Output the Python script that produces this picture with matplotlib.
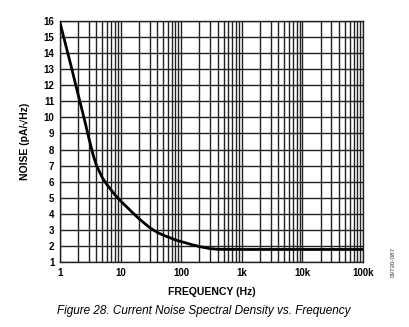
import matplotlib
matplotlib.use("Agg")
import matplotlib.pyplot as plt
from matplotlib.ticker import FixedLocator, LogLocator, NullFormatter

# current noise density
freq_hz = [1, 1.5, 2, 2.5, 3, 3.5, 4, 5, 6, 8, 10, 15, 20, 30, 40, 50, 80,
           100, 150, 200, 300, 400, 1000, 10000, 100000]
noise_pa = [15.9, 13.3, 11.4, 9.95, 8.7, 7.7, 7.0, 6.25, 5.8, 5.2, 4.8, 4.15,
            3.7, 3.15, 2.85, 2.68, 2.38, 2.27, 2.08, 1.96, 1.83, 1.79, 1.78,
            1.78, 1.78]

x_ticks = [1, 10, 100, 1000, 10000, 100000]
x_tick_labels = ["1", "10", "100", "1k", "10k", "100k"]
y_ticks = list(range(1, 17))

plt.rcParams["font.family"] = ["Liberation Sans", "DejaVu Sans"]

fig = plt.figure(figsize=(4.10, 3.27), dpi=100)
ax = fig.add_axes([0.1463, 0.1988, 0.7391, 0.7370])

ax.plot(freq_hz, noise_pa, color="black", linewidth=2.0, zorder=3)

ax.set_xscale("log")
ax.set_xlim(1, 100000)
ax.set_ylim(1, 16)

ax.xaxis.set_major_locator(FixedLocator(x_ticks))
ax.set_xticklabels(x_tick_labels)
ax.xaxis.set_minor_locator(LogLocator(base=10, subs=range(2, 10), numticks=20))
ax.xaxis.set_minor_formatter(NullFormatter())
ax.set_yticks(y_ticks)

ax.grid(which="both", axis="x", color="#222222", linewidth=1.0)
ax.grid(which="major", axis="y", color="#222222", linewidth=1.0)
ax.tick_params(which="both", length=0, labelsize=7, pad=4)
for lbl in ax.get_xticklabels() + ax.get_yticklabels():
    lbl.set_fontweight("bold")
for sp in ax.spines.values():
    sp.set_color("#222222")
    sp.set_linewidth(1.0)

ax.set_xlabel("FREQUENCY (Hz)", fontsize=7.5, fontweight="bold", labelpad=7)
ax.set_ylabel("NOISE (pA/\u221aHz)", fontsize=7.5, fontweight="bold", labelpad=10)

fig.text(0.4976, 0.049, "Figure 28. Current Noise Spectral Density vs. Frequency",
         ha="center", va="center", fontsize=8.5, style="italic")
fig.text(0.958, 0.20, "09730-087", rotation=90, ha="center", va="center",
         fontsize=4.5, color="#333333")

fig.savefig("out.png", dpi=100)
